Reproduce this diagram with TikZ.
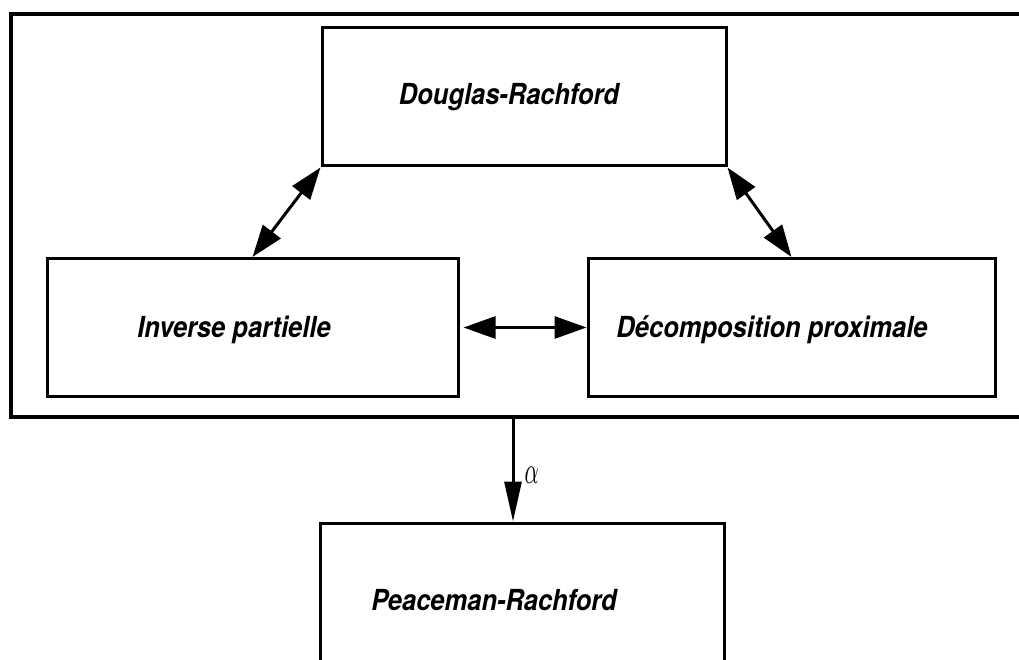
\documentclass[tikz,border=0pt]{standalone}
\usepackage{fontspec}
\usepackage{amsmath}
\usepackage{graphicx}
\usetikzlibrary{arrows.meta}
\newfontfamily\boxfont{TeX Gyre Heros}[FakeStretch=0.88]

\begin{document}
\begin{tikzpicture}[x=1pt,y=-1pt]
\tikzstyle{every node}+=[inner sep=0pt]
\tikzstyle{methodbox}=[draw=black, line width=3pt, minimum height=138pt]
\tikzstyle{methodname}=[font=\boxfont\bfseries\itshape\fontsize{29}{34}\selectfont]
\tikzstyle{link}=[black, line width=3pt, {Triangle[length=32pt,width=22pt]}-{Triangle[length=32pt,width=22pt]}]
\useasboundingbox (0,0) rectangle (1019,660);
\draw [black, line width=4pt] (11,14) rectangle (1060,417);
\coordinate (framebot) at (513,417);
\node [methodbox, minimum width=404pt] (dr) at (524,97) {};
\node [methodname] (drname) at (509,97) {Douglas-Rachford};
\node [methodbox, minimum width=411pt] (ip) at (252.5,327.5) {};
\node [methodname] (ipname) at (234,330) {Inverse partielle};
\node [methodbox, minimum width=407pt] (dp) at (791.5,327.5) {};
\node [methodname] (dpname) at (772,330) {Décomposition proximale};
\node [methodbox, minimum width=404pt, minimum height=160pt] (pr) at (522,603) {};
\node [methodname] (prname) at (494,600) {Peaceman-Rachford};
\draw [link] (dr.south west) -- (ip.north);
\draw [link] (dr.south east) -- (dp.north);
\draw [link, shorten <=4pt] (ip.east) -- (dp.west);
\draw [black, line width=3pt, -{Triangle[length=40pt,width=17pt]}] (framebot) -- (framebot |- pr.north)
  node [pos=0.56, right=10pt] (alpha) {\scalebox{2.2}[3.8]{$\alpha$}};
\end{tikzpicture}
\end{document}
